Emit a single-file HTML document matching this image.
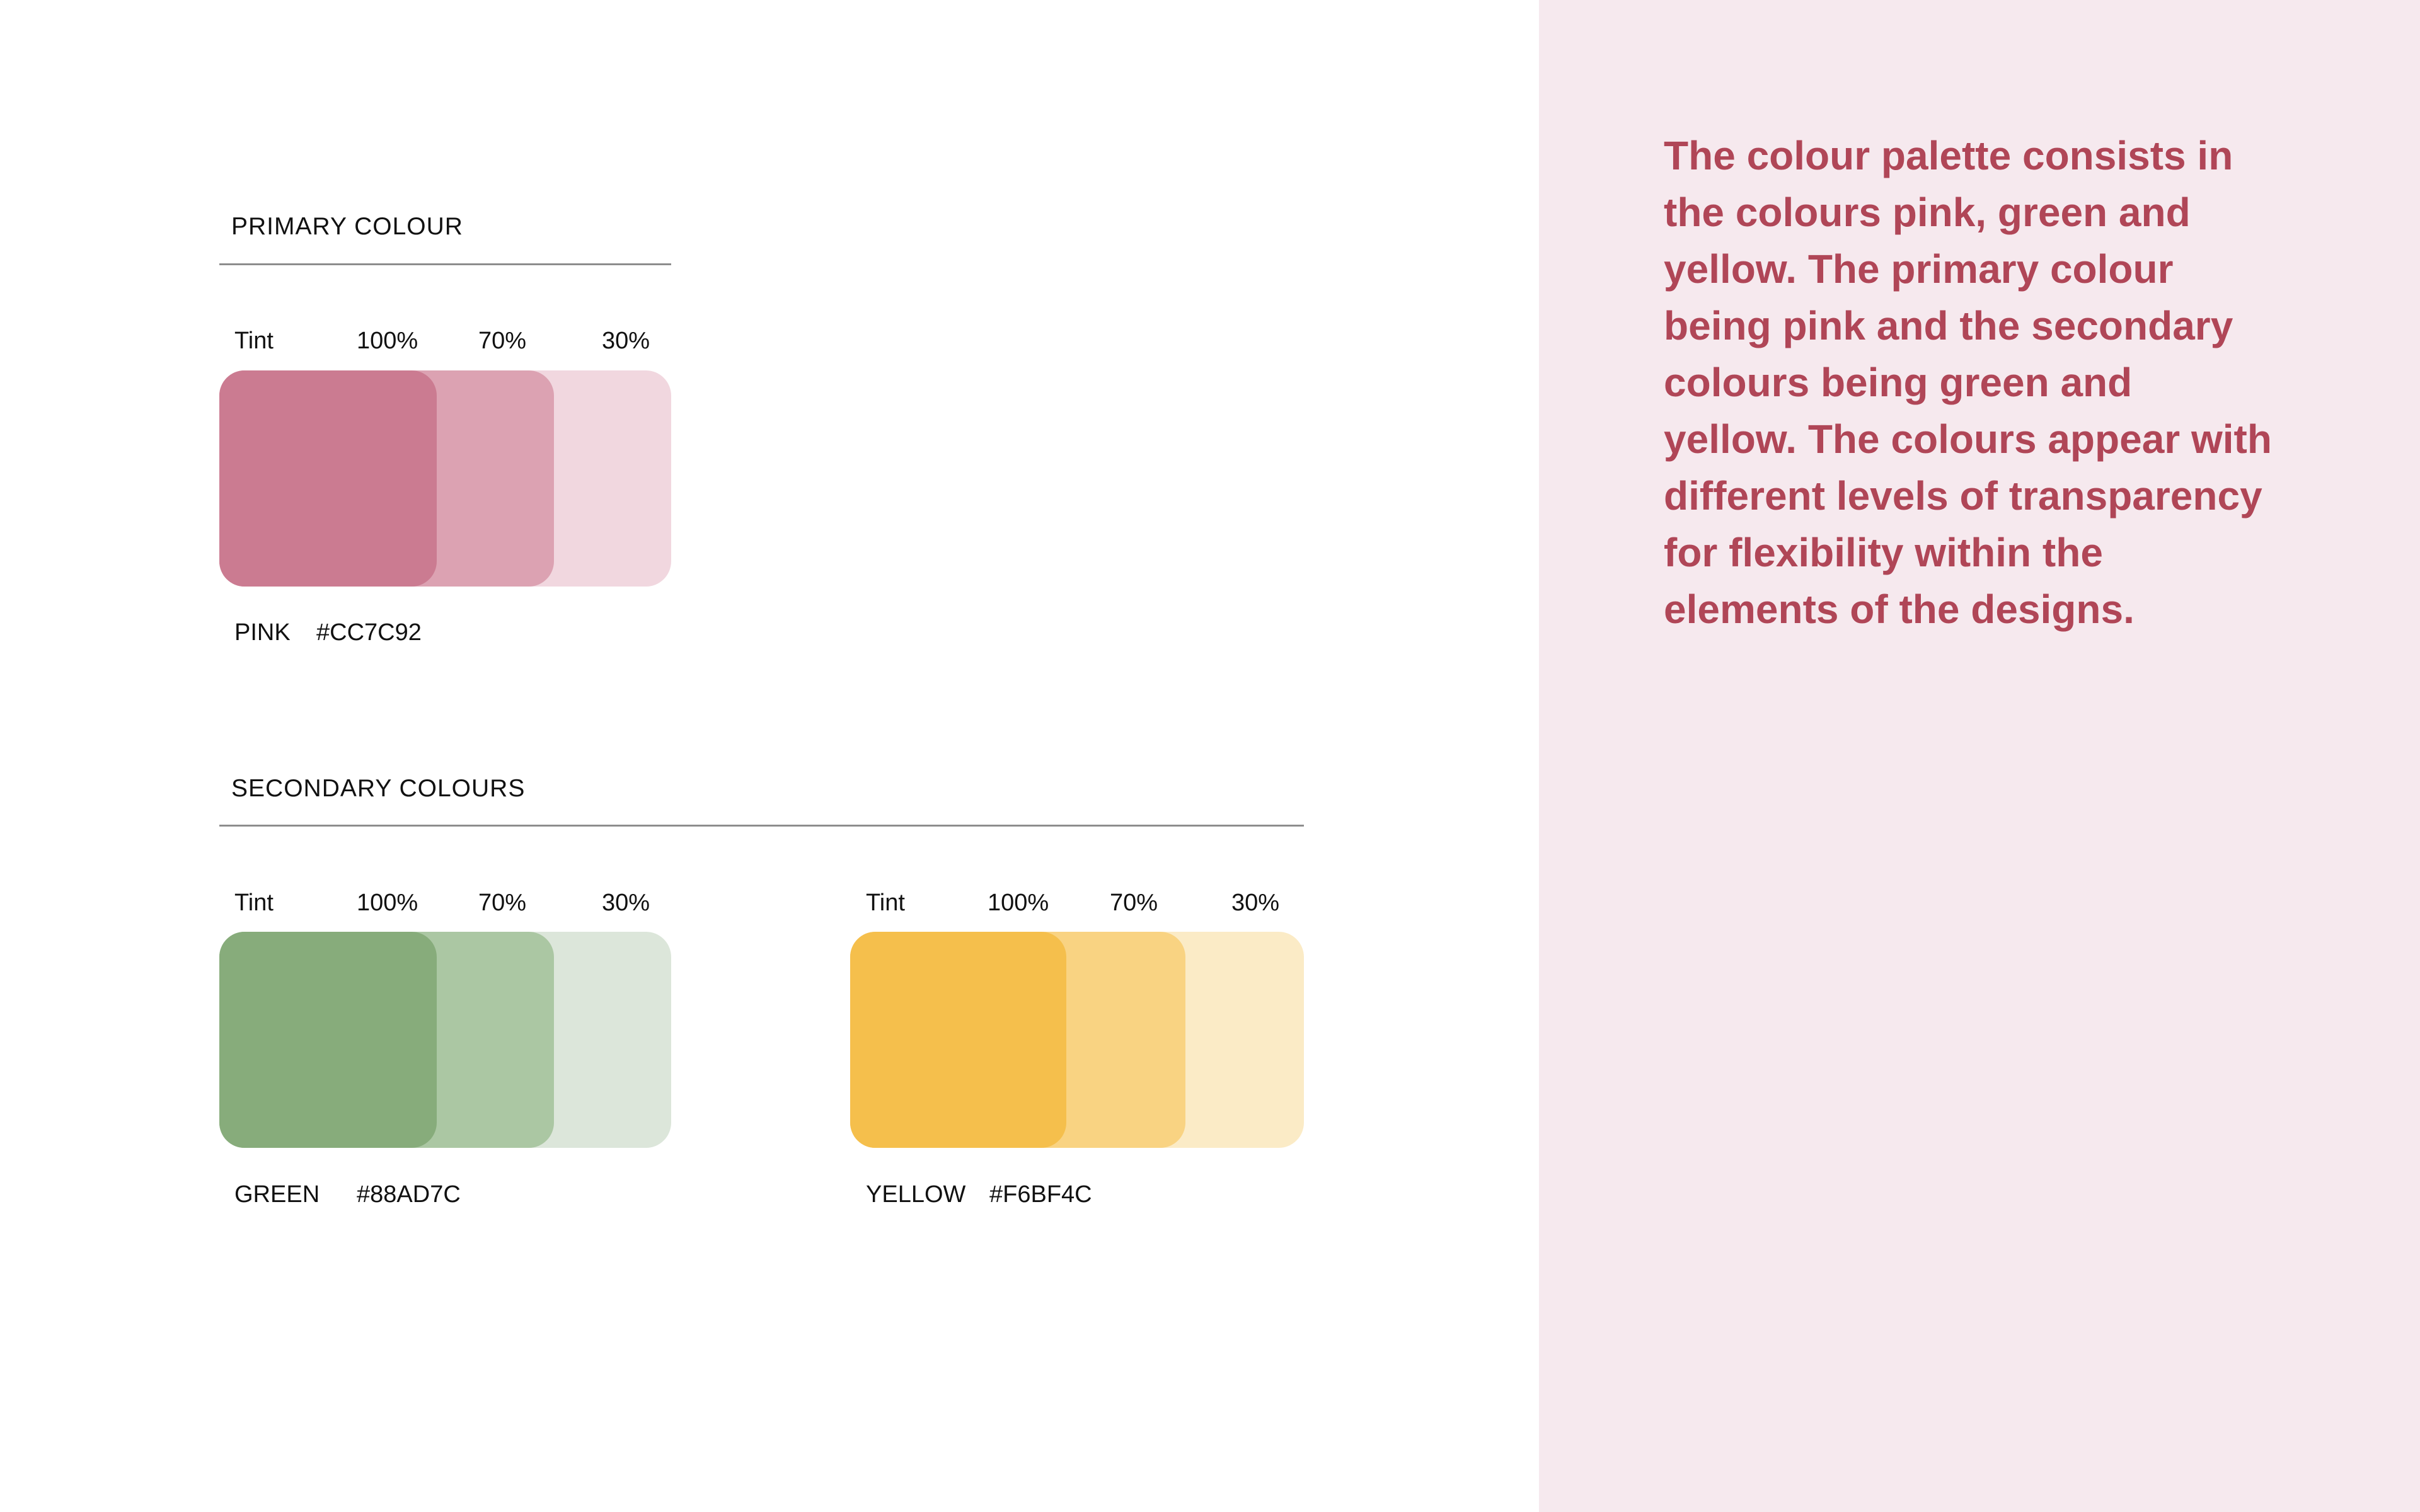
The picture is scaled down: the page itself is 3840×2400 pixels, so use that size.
<!DOCTYPE html>
<html><head><meta charset="utf-8"><style>
html,body{margin:0;padding:0}
body{width:3840px;height:2400px;position:relative;background:#fff;overflow:hidden;font-family:"Liberation Sans",sans-serif;color:#111}
.t{position:absolute;white-space:nowrap;line-height:1}
.h{font-size:39px;letter-spacing:1px}
.s{font-size:38px}
.rule{position:absolute;height:3px;background:#8d8d8d}
.sw{position:absolute;border-radius:40px}
.panel{position:absolute;left:2442px;top:0;width:1398px;height:2400px;background:#F6E9EE}
.p{position:absolute;left:2640px;font-size:64px;font-weight:bold;color:#B04657;white-space:nowrap;line-height:1}
</style></head><body>
<div class="t h" style="left:367px;top:340px">PRIMARY COLOUR</div>
<div class="rule" style="left:348px;top:418px;width:717px"></div>
<div class="t s" style="left:372px;top:522px">Tint</div>
<div class="t s" style="left:566px;top:522px">100%</div>
<div class="t s" style="left:759px;top:522px">70%</div>
<div class="t s" style="left:955px;top:522px">30%</div>
<div class="sw" style="left:348px;top:588px;width:717px;height:343px;background:#F1D7DF"></div>
<div class="sw" style="left:348px;top:588px;width:531px;height:343px;background:#DCA2B2"></div>
<div class="sw" style="left:348px;top:588px;width:345px;height:343px;background:#CB7B91"></div>
<div class="t s" style="left:372px;top:985px">PINK</div>
<div class="t s" style="left:502px;top:985px">#CC7C92</div>

<div class="t h" style="left:367px;top:1232px">SECONDARY COLOURS</div>
<div class="rule" style="left:348px;top:1309px;width:1721px"></div>
<div class="t s" style="left:372px;top:1414px">Tint</div>
<div class="t s" style="left:566px;top:1414px">100%</div>
<div class="t s" style="left:759px;top:1414px">70%</div>
<div class="t s" style="left:955px;top:1414px">30%</div>
<div class="sw" style="left:348px;top:1479px;width:717px;height:343px;background:#DCE6DA"></div>
<div class="sw" style="left:348px;top:1479px;width:531px;height:343px;background:#ABC7A3"></div>
<div class="sw" style="left:348px;top:1479px;width:345px;height:343px;background:#87AC7B"></div>
<div class="t s" style="left:372px;top:1877px">GREEN</div>
<div class="t s" style="left:566px;top:1877px">#88AD7C</div>

<div class="t s" style="left:1374px;top:1414px">Tint</div>
<div class="t s" style="left:1567px;top:1414px">100%</div>
<div class="t s" style="left:1761px;top:1414px">70%</div>
<div class="t s" style="left:1954px;top:1414px">30%</div>
<div class="sw" style="left:1349px;top:1479px;width:720px;height:343px;background:#FBEBC6"></div>
<div class="sw" style="left:1349px;top:1479px;width:532px;height:343px;background:#F9D382"></div>
<div class="sw" style="left:1349px;top:1479px;width:343px;height:343px;background:#F5BF4C"></div>
<div class="t s" style="left:1374px;top:1877px">YELLOW</div>
<div class="t s" style="left:1570px;top:1877px">#F6BF4C</div>

<div class="panel"></div>
<div>
<div class="p" style="top:215px">The colour palette consists in</div>
<div class="p" style="top:305px">the colours pink, green and</div>
<div class="p" style="top:395px">yellow. The primary colour</div>
<div class="p" style="top:485px">being pink and the secondary</div>
<div class="p" style="top:575px">colours being green and</div>
<div class="p" style="top:665px">yellow. The colours appear with</div>
<div class="p" style="top:755px">different levels of transparency</div>
<div class="p" style="top:845px">for flexibility within the</div>
<div class="p" style="top:935px">elements of the designs.</div>
</div>
</body></html>
